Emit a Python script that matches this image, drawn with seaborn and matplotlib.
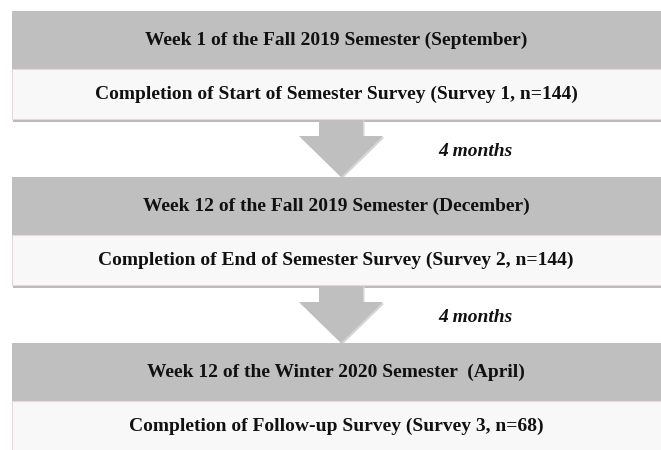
import matplotlib.pyplot as plt
import seaborn as sns
from matplotlib.patches import Rectangle, Polygon

# chart content
headers = [
    "Week 1 of the Fall 2019 Semester (September)",
    "Week 12 of the Fall 2019 Semester (December)",
    "Week 12 of the Winter 2020 Semester  (April)",
]
bodies = [
    "Completion of Start of Semester Survey (Survey 1, n=144)",
    "Completion of End of Semester Survey (Survey 2, n=144)",
    "Completion of Follow-up Survey (Survey 3, n=68)",
]
gap_labels = ["4 months", "4 months"]

# layout in pixel units (y grows downward)
box_top = [11, 177, 343]
header_h = 58
body_h = [50, 50, 60]
box_left, box_right = 12, 663
arrow_cx = 341

GRAY = "#bfbfbf"
LIGHT = "#f8f8f8"
FS = 14

sns.set_theme(style="white")
plt.rcParams["font.family"] = ["Liberation Serif", "DejaVu Serif"]

fig = plt.figure(figsize=(6.61, 4.5), dpi=100)
ax = fig.add_axes([0, 0, 1, 1])
ax.set_xlim(0, 661)
ax.set_ylim(450, 0)
ax.axis("off")

for i, (head, body) in enumerate(zip(headers, bodies)):
    top = box_top[i]
    mid = top + header_h
    bottom = mid + body_h[i]
    # drop shadow
    if i < 2:
        ax.add_patch(Rectangle((box_left + 1, bottom - 1), box_right - box_left, 4,
                               facecolor="#a9a9a9", edgecolor="none", alpha=0.8, zorder=1))
    ax.add_patch(Rectangle((box_left, top), box_right - box_left, header_h,
                           facecolor=GRAY, edgecolor="none", zorder=2))
    ax.add_patch(Rectangle((box_left, mid), box_right - box_left, body_h[i],
                           facecolor=LIGHT, edgecolor="#ead6d8", linewidth=0.8, zorder=2))
    ax.text(336, top + header_h / 2, head, ha="center", va="center",
            fontsize=FS, fontweight="bold", color="#111111", zorder=3)
    ax.text(336, mid + 25, body, ha="center", va="center",
            fontsize=FS, fontweight="bold", color="#111111", zorder=3)

# arrows between boxes
for i, label in enumerate(gap_labels):
    start = box_top[i] + header_h + body_h[i]
    tip = box_top[i + 1]
    head_y = start + 17
    pts = [
        (arrow_cx - 22, start), (arrow_cx + 22, start), (arrow_cx + 22, head_y),
        (arrow_cx + 42, head_y), (arrow_cx, tip), (arrow_cx - 42, head_y),
        (arrow_cx - 22, head_y),
    ]
    shadow = [(x + 1.5, y + 1.5) for x, y in pts]
    ax.add_patch(Polygon(shadow, closed=True, facecolor="#d6d6d6", edgecolor="none", zorder=1))
    ax.add_patch(Polygon(pts, closed=True, facecolor=GRAY, edgecolor="none", zorder=1.5))
    ax.text(438, (start + tip) / 2 + 4, label, ha="left", va="center",
            fontsize=FS, fontweight="bold", fontstyle="italic", color="#111111")

fig.savefig("out.png", dpi=100)
